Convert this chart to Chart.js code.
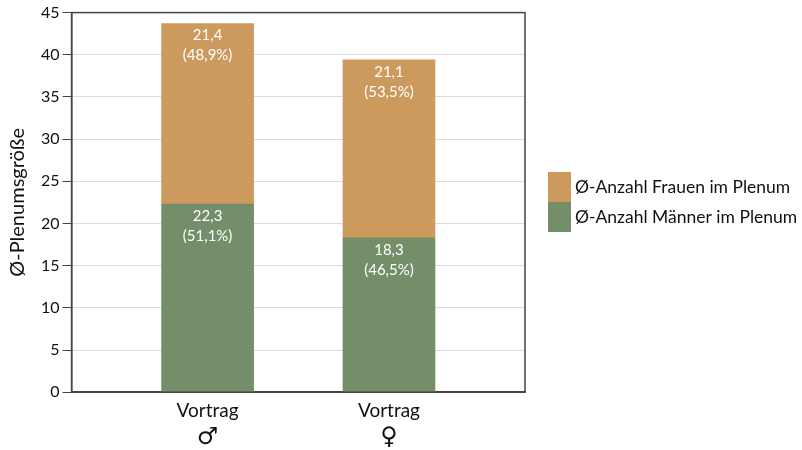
<!DOCTYPE html>
<html>
<head>
<meta charset="utf-8">
<script src="https://cdn.jsdelivr.net/npm/chart.js@4"></script>
<style>
  html, body { margin: 0; padding: 0; background: #fff; }
  #wrap { width: 802px; height: 450px; }
</style>
</head>
<body>
<div id="wrap"><canvas id="chart"></canvas></div>
<script>
const categories = ['Vortrag', 'Vortrag'];
const symbols = ['♂', '♀'];
const positions = [0, 1];
const maenner = [22.3, 18.3];
const frauen = [21.4, 21.1];
const maennerLabels = [['22,3', '(51,1%)'], ['18,3', '(46,5%)']];
const frauenLabels = [['21,4', '(48,9%)'], ['21,1', '(53,5%)']];
const seriesNames = ['Ø-Anzahl Männer im Plenum', 'Ø-Anzahl Frauen im Plenum'];

const FONT = 'Lato, sans-serif';

// Rahmen um die Plotfläche + Geschlechtssymbole + Legende
const decoPlugin = {
  id: 'deco',
  afterDraw(chart) {
    const a = chart.chartArea, c = chart.ctx;
    c.save();
    c.strokeStyle = '#444';
    c.lineWidth = 1.5;
    c.strokeRect(a.left, a.top, a.right - a.left, a.bottom - a.top);

    // Symbole unter den Kategorien
    const xs = chart.scales.x;
    c.fillStyle = '#111';
    c.font = '24px "DejaVu Sans"';
    c.textAlign = 'center';
    c.textBaseline = 'middle';
    positions.forEach((p, i) => {
      c.fillText(symbols[i], xs.getPixelForValue(p), a.bottom + 46);
    });

    // Legende rechts (umgekehrte Reihenfolge)
    const lx = a.right + 23, top = 172, h = 30;
    c.textAlign = 'left';
    c.font = '17.5px ' + FONT;
    const ds = chart.data.datasets.slice().reverse();
    ds.forEach((d, i) => {
      c.fillStyle = d.backgroundColor;
      c.fillRect(lx, top + i * h, 23, h);
      c.fillStyle = '#111';
      c.fillText(d.label, lx + 27, top + i * h + h / 2);
    });
    c.restore();
  }
};

// Werte in die Balken schreiben
const labelPlugin = {
  id: 'barLabels',
  afterDatasetsDraw(chart) {
    const c = chart.ctx;
    c.save();
    c.fillStyle = '#fff';
    c.font = '15px ' + FONT;
    c.textAlign = 'center';
    c.textBaseline = 'middle';
    chart.data.datasets.forEach((ds, di) => {
      const meta = chart.getDatasetMeta(di);
      meta.data.forEach((bar, i) => {
        const lines = ds.valueLabels[i];
        c.fillText(lines[0], bar.x, bar.y + 12);
        c.fillText(lines[1], bar.x, bar.y + 32);
      });
    });
    c.restore();
  }
};

new Chart(document.getElementById('chart'), {
  type: 'bar',
  data: {
    datasets: [
      {
        label: seriesNames[0],
        data: positions.map((p, i) => ({ x: p, y: maenner[i] })),
        valueLabels: maennerLabels,
        backgroundColor: '#758e6a',
        barThickness: 92
      },
      {
        label: seriesNames[1],
        data: positions.map((p, i) => ({ x: p, y: frauen[i] })),
        valueLabels: frauenLabels,
        backgroundColor: '#cc9a5c',
        barThickness: 92
      }
    ]
  },
  options: {
    responsive: true,
    maintainAspectRatio: false,
    animation: false,
    layout: { padding: { top: 4, right: 277, left: 6, bottom: 21 } },
    plugins: {
      legend: { display: false },
      tooltip: { enabled: false }
    },
    scales: {
      x: {
        type: 'linear',
        min: -0.75,
        max: 1.75,
        offset: false,
        stacked: true,
        afterBuildTicks(scale) {
          scale.ticks = positions.map(v => ({ value: v }));
        },
        ticks: {
          callback: (v) => categories[positions.indexOf(v)],
          color: '#111',
          font: { family: FONT, size: 19 },
          padding: 7,
          maxRotation: 0
        },
        grid: { display: false, drawTicks: false },
        border: { color: '#444', width: 1.5 }
      },
      y: {
        stacked: true,
        min: 0,
        max: 45,
        ticks: {
          stepSize: 5,
          color: '#111',
          font: { family: FONT, size: 16 },
          padding: 3
        },
        grid: {
          color: '#dcdcdc',
          tickColor: '#444',
          tickLength: 9
        },
        border: { color: '#444', width: 1.5 },
        title: {
          display: true,
          text: 'Ø-Plenumsgröße',
          color: '#111',
          font: { family: FONT, size: 20 },
          padding: { top: 0, bottom: 8 }
        }
      }
    }
  },
  plugins: [decoPlugin, labelPlugin]
});
</script>
</body>
</html>
